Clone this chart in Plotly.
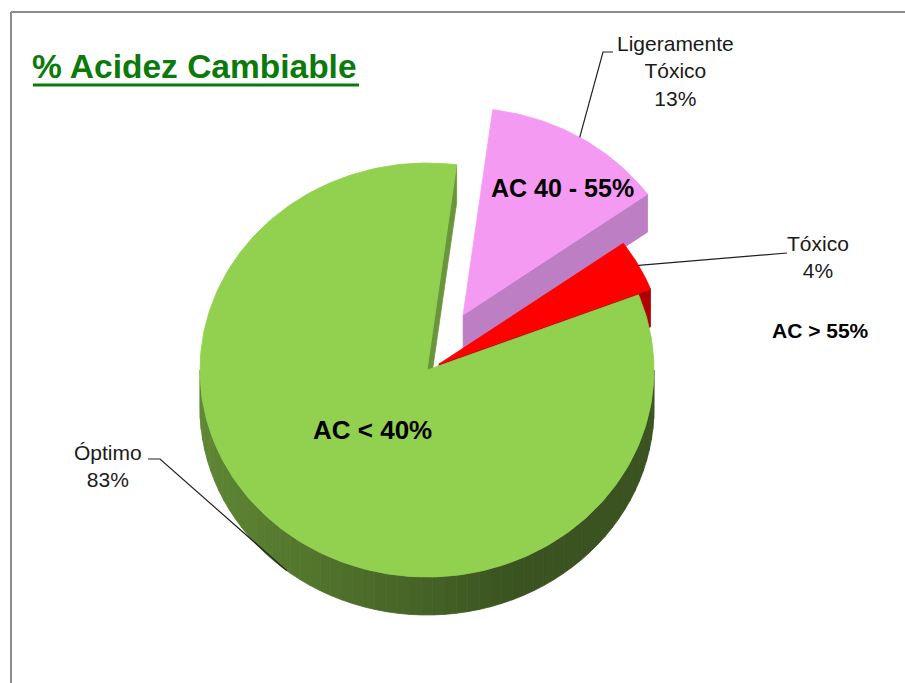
import numpy as np
import plotly.graph_objects as go

# ---- data ----
labels = ["Ligeramente<br>Tóxico", "Tóxico", "Óptimo"]
values = [13, 4, 83]
ranges = ["AC 40 - 55%", "AC > 55%", "AC < 40%"]
top_colors = ["#F49AF2", "#FF0000", "#92D050"]
side_colors = [(190, 126, 196), (176, 0, 0), (146, 208, 80)]

# ---- pie styling (pixel space) ----
pull = [0.31, 0.06, 0.0]
CX, CY = 427.0, 370.0
RX, RY = 227.0, 207.0
DEPTH = 38.0
START = 7.5  # degrees clockwise from 12 o'clock

# label placement (pixel space)
name_pos = [(675, 71), (818, 257), (108, 466)]
name_elbow = [[(613, 52), (603, 52)], [(787, 253)], [(148, 459), (160, 459)]]
range_pos = [(562, 188), (820, 330), (372, 430)]
range_size = [25, 21, 26]

total = float(sum(values))
spans = [v / total * 360.0 for v in values]
starts = list(START + np.cumsum([0] + spans[:-1]))
ends = [s + w for s, w in zip(starts, spans)]
mids = [(s + e) / 2 for s, e in zip(starts, ends)]


def offset(i):
    m = np.radians(mids[i])
    return pull[i] * RX * np.sin(m), -pull[i] * RY * np.cos(m)


def pt(i, theta, r=1.0, z=0.0):
    ox, oy = offset(i)
    t = np.radians(theta)
    return CX + ox + r * RX * np.sin(t), CY + oy - r * RY * np.cos(t) + z


def rgb(c, f=1.0):
    return "rgb(%d,%d,%d)" % tuple(int(max(0, min(255, round(v * f)))) for v in c)


def poly(xs, ys, color):
    return go.Scatter(x=list(xs) + [xs[0]], y=list(ys) + [ys[0]], mode="lines",
                      fill="toself", fillcolor=color,
                      line=dict(color=color, width=0.8),
                      hoverinfo="skip", showlegend=False)


fig = go.Figure()

# side walls first
for i in range(len(values)):
    a1, a2 = starts[i], ends[i]
    # outer curved wall: visible only on the front half
    for lo, hi in [(90, 270), (450, 630)]:
        s, e = max(a1, lo), min(a2, hi)
        if e <= s:
            continue
        n = max(2, int((e - s) / 3) + 1)
        edges = np.linspace(s, e, n + 1)
        for k in range(n):
            ts = np.linspace(edges[k], edges[k + 1], 6)
            up = [pt(i, t) for t in ts]
            dn = [pt(i, t, z=DEPTH) for t in ts[::-1]]
            tm = np.radians((edges[k] + edges[k + 1]) / 2)
            f = max(0.40, 0.47 - 0.18 * np.sin(tm))
            xs = [p[0] for p in up + dn]
            ys = [p[1] for p in up + dn]
            fig.add_trace(poly(xs, ys, rgb(side_colors[i], f)))
    # radial cut faces that face the viewer
    faces = []
    if np.sin(np.radians(a1)) < 0:
        faces.append(a1)
    if np.sin(np.radians(a2)) > 0:
        faces.append(a2)
    for a in faces:
        c0 = pt(i, a, r=0.0)
        c1 = pt(i, a, r=1.0)
        xs = [c0[0], c1[0], c1[0], c0[0]]
        ys = [c0[1], c1[1], c1[1] + DEPTH, c0[1] + DEPTH]
        shade = 1.0 if i != 2 else 0.72
        fig.add_trace(poly(xs, ys, rgb(side_colors[i], shade)))

# top faces, back to front
for i in range(len(values)):
    ts = np.linspace(starts[i], ends[i], max(8, int(spans[i])))
    c = pt(i, 0, r=0.0)
    arc = [pt(i, t) for t in ts]
    xs = [c[0]] + [p[0] for p in arc]
    ys = [c[1]] + [p[1] for p in arc]
    fig.add_trace(poly(xs, ys, top_colors[i]))

# leader lines from the names to the slices
for i in range(len(values)):
    if i == 2:
        anchor = pt(i, mids[i], z=DEPTH)
    else:
        anchor = pt(i, mids[i])
    path = name_elbow[i] + [anchor]
    fig.add_trace(go.Scatter(x=[p[0] for p in path], y=[p[1] for p in path],
                             mode="lines", line=dict(color="#202020", width=1.2),
                             hoverinfo="skip", showlegend=False))

font_reg = "Liberation Sans, Arial, sans-serif"
annotations = []
for i in range(len(values)):
    pct = round(values[i] / total * 100)
    annotations.append(dict(x=name_pos[i][0], y=name_pos[i][1], xref="x", yref="y",
                            text="%s<br>%d%%" % (labels[i], pct), showarrow=False,
                            xanchor="center", yanchor="middle", align="center",
                            font=dict(family=font_reg, size=21, color="#1a1a1a")))
    annotations.append(dict(x=range_pos[i][0], y=range_pos[i][1], xref="x", yref="y",
                            text="<b>%s</b>" % ranges[i], showarrow=False,
                            xanchor="center", yanchor="middle",
                            font=dict(family=font_reg, size=range_size[i], color="#000000")))

annotations.append(dict(x=30, y=66, xref="x", yref="y", text="<b>% Acidez Cambiable</b>",
                        showarrow=False, xanchor="left", yanchor="middle",
                        font=dict(family=font_reg, size=33.5, color="#0B7A0B")))

shapes = [
    dict(type="line", xref="x", yref="y", x0=33, x1=359, y0=85, y1=85,
         line=dict(color="#0B7A0B", width=3)),
    dict(type="line", xref="x", yref="y", x0=11, x1=905, y0=12, y1=12,
         line=dict(color="#8C8C8C", width=2)),
    dict(type="line", xref="x", yref="y", x0=11, x1=11, y0=12, y1=683,
         line=dict(color="#8C8C8C", width=2)),
]

fig.update_layout(
    width=905, height=683,
    margin=dict(l=0, r=0, t=0, b=0),
    paper_bgcolor="white", plot_bgcolor="white",
    xaxis=dict(range=[0, 905], visible=False, fixedrange=True),
    yaxis=dict(range=[683, 0], visible=False, fixedrange=True),
    annotations=annotations, shapes=shapes,
    showlegend=False,
)

fig.write_html("out.html")
